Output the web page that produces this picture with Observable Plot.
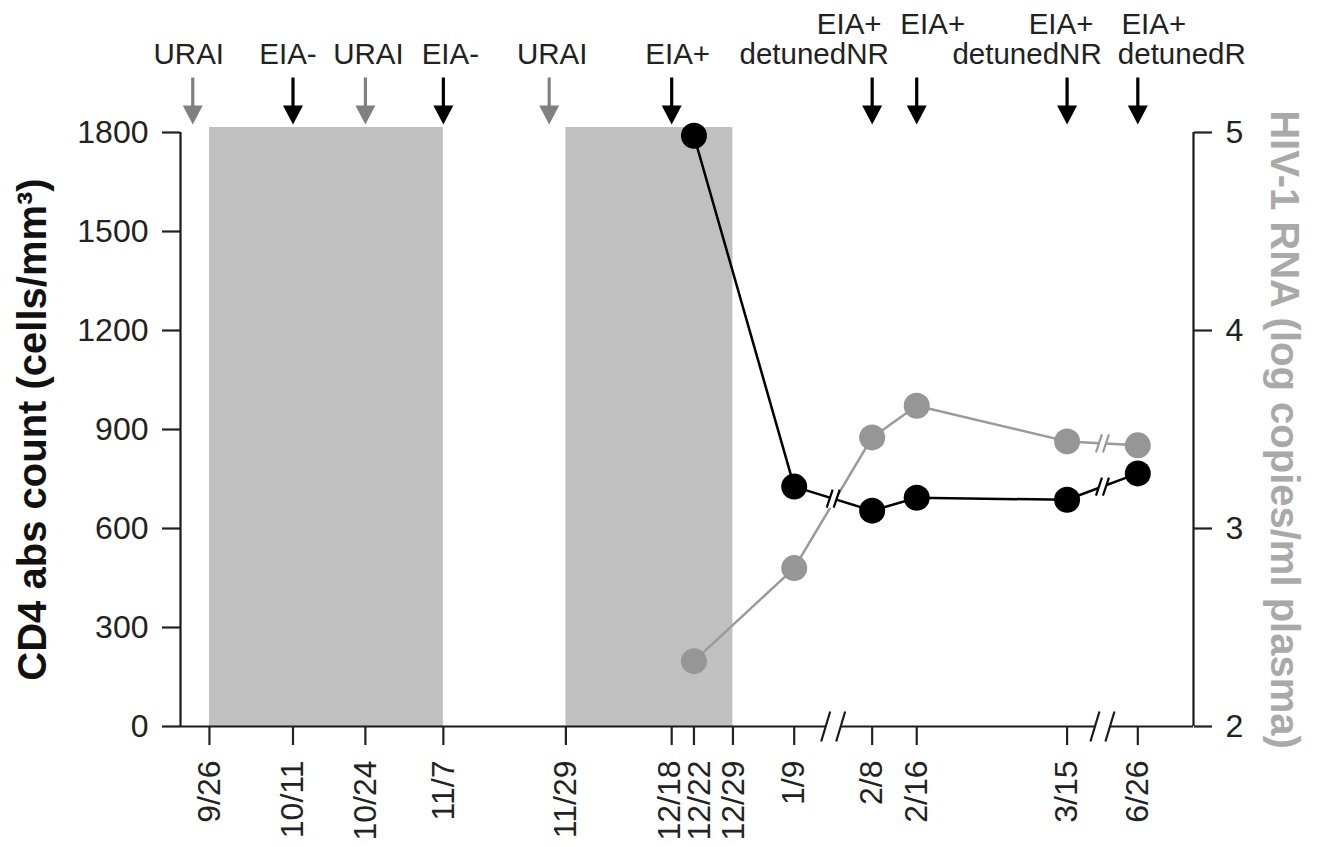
<!DOCTYPE html>
<html>
<head>
<meta charset="utf-8">
<script src="https://cdn.jsdelivr.net/npm/d3@7"></script>
<script src="https://cdn.jsdelivr.net/npm/@observablehq/plot@0.6"></script>
<style>
  html, body { margin: 0; padding: 0; background: #fff; }
  #chart { width: 1320px; height: 847px; }
  #chart svg g[aria-label$="tick label"] { font-size: 32px; }
</style>
</head>
<body>
<div id="chart"></div>
<script>
// ---------------- data ----------------
const sampleDates = ["12/22", "1/9", "2/8", "2/16", "3/15", "6/26"];
const cd4Counts   = [1790, 727, 654, 693, 687, 767];        // cells/mm3
const rnaLog      = [2.33, 2.80, 3.46, 3.62, 3.44, 3.42];   // log copies/ml plasma

const tickDates = ["9/26", "10/11", "10/24", "11/7", "11/29", "12/18", "12/22", "12/29", "1/9", "2/8", "2/16", "3/15", "6/26"];
const cd4Ticks = [0, 300, 600, 900, 1200, 1500, 1800];
const rnaTicks = [2, 3, 4, 5];

const eventDates = ["9/23", "10/11", "10/24", "11/7", "11/26", "12/18", "2/8", "2/16", "3/15", "6/26"];
const eventKinds = ["URAI", "EIA", "URAI", "EIA", "URAI", "EIA", "EIA", "EIA", "EIA", "EIA"];
const eventLine1 = ["", "", "", "", "", "", "EIA+", "EIA+", "EIA+", "EIA+"];
const eventLine2 = ["URAI", "EIA-", "URAI", "EIA-", "URAI", "EIA+", "detunedNR", "", "detunedNR", "detunedR"];

const shadeStarts = ["9/26", "11/29"];
const shadeEnds   = ["11/7", "12/29"];

const breakPairs = [["1/9", "2/8"], ["3/15", "6/26"]];
const rnaBreakPairs = [["3/15", "6/26"]];

// ---------------- layout (not data) ----------------
const line1Nudge = [0, 0, 0, 0, 0, 0, -23, 16, -6, 16];
const line2Nudge = [-4, -5, 3, 7, 3, 6, -58, 0, -40, 44];
const tickLabelNudge = [0, 0, 0, 0, 0, -2, 6, 1, 0, 0, 0, 0, 0];
const FONT = "'Liberation Sans', Arial, Helvetica, sans-serif";
const INK = "#1a1a1a";

// broken time axis: days since 9/26, with two compressed gaps
const AXIS_BREAKS = [{after: 120, gap: 16}, {after: 220, gap: 90.3}];
function dayIndex(md) {
  const [m, d] = md.split("/").map(Number);
  const year = m >= 9 ? 2001 : 2002;
  return Math.round((Date.UTC(year, m - 1, d) - Date.UTC(2001, 8, 26)) / 864e5);
}
function axisPos(md) {
  const d = dayIndex(md);
  let p = d;
  for (const b of AXIS_BREAKS) if (d > b.after) p -= b.gap;
  return p;
}
const X_DOMAIN = [-5.2, 176.7];

// RNA (2..5 log) drawn on the CD4 (0..1800) scale
const toCd4Scale = (v) => (v - 2) / 3 * 1800;

// ---------------- rows ----------------
const samples = sampleDates.map((d, i) => ({pos: axisPos(d), cd4: cd4Counts[i], rna: toCd4Scale(rnaLog[i])}));
const byDate = new Map(sampleDates.map((d, i) => [d, samples[i]]));
const events = eventDates.map((d, i) => ({pos: axisPos(d), kind: eventKinds[i], l1: eventLine1[i], l2: eventLine2[i], i}));
const shades = shadeStarts.map((s, i) => ({x1: axisPos(s), x2: axisPos(shadeEnds[i])}));
const axisBreaks = breakPairs.map(([a, b]) => ({pos: (axisPos(a) + axisPos(b)) / 2}));
const cd4Breaks = breakPairs.map(([a, b]) => ({pos: (axisPos(a) + axisPos(b)) / 2, y: (byDate.get(a).cd4 + byDate.get(b).cd4) / 2}));
const rnaBreaks = rnaBreakPairs.map(([a, b]) => ({pos: (axisPos(a) + axisPos(b)) / 2, y: (byDate.get(a).rna + byDate.get(b).rna) / 2}));
const xTicks = tickDates.map((d, i) => ({pos: axisPos(d), label: d, i}));

const rnaTickLabel = new Map(rnaTicks.map((v) => [toCd4Scale(v), String(v)]));

// ---------------- custom symbols ----------------
const arrowSymbol = {
  draw(ctx, size) {
    const k = Math.sqrt(size / Math.PI) / 10;
    ctx.moveTo(-1.6 * k, -47 * k);
    ctx.lineTo(1.6 * k, -47 * k);
    ctx.lineTo(1.6 * k, -19 * k);
    ctx.lineTo(10 * k, -19 * k);
    ctx.lineTo(0, 0);
    ctx.lineTo(-10 * k, -19 * k);
    ctx.lineTo(-1.6 * k, -19 * k);
    ctx.closePath();
  }
};
function breakFill(h, lean, sep) {
  return {draw(ctx) {
    ctx.moveTo(-sep / 2 - lean, h);
    ctx.lineTo(-sep / 2 + lean, -h);
    ctx.lineTo(sep / 2 + lean, -h);
    ctx.lineTo(sep / 2 - lean, h);
    ctx.closePath();
  }};
}
function breakLines(h, lean, sep) {
  return {draw(ctx) {
    ctx.moveTo(-sep / 2 - lean, h);
    ctx.lineTo(-sep / 2 + lean, -h);
    ctx.moveTo(sep / 2 - lean, h);
    ctx.lineTo(sep / 2 + lean, -h);
  }};
}

// ---------------- marks ----------------
const marks = [
  Plot.rect(shades, {x1: "x1", x2: "x2", y1: 0, y2: 1800, insetTop: -5, fill: "#c0c0c0"}),
  Plot.ruleY([0], {stroke: INK, strokeWidth: 2.2}),
  Plot.ruleX([X_DOMAIN[0]], {stroke: INK, strokeWidth: 2.2}),
  Plot.ruleX([X_DOMAIN[1]], {stroke: INK, strokeWidth: 2.2}),
  // axis breaks
  Plot.dot(axisBreaks, {x: "pos", y: 0, symbol: breakFill(15, 4.5, 15), r: 10, fill: "#fff", stroke: "none"}),
  Plot.dot(axisBreaks, {x: "pos", y: 0, symbol: breakLines(15, 4.5, 15), r: 10, fill: "none", stroke: INK, strokeWidth: 2.2}),
  // series lines
  Plot.line(samples, {x: "pos", y: "rna", stroke: "#9a9a9a", strokeWidth: 2.5}),
  Plot.line(samples, {x: "pos", y: "cd4", stroke: "#000", strokeWidth: 2.5}),
  Plot.dot(cd4Breaks, {x: "pos", y: "y", symbol: breakFill(9, 3, 7), r: 10, fill: "#fff", stroke: "none"}),
  Plot.dot(cd4Breaks, {x: "pos", y: "y", symbol: breakLines(9, 3, 7), r: 10, fill: "none", stroke: "#000", strokeWidth: 2.2}),
  Plot.dot(rnaBreaks, {x: "pos", y: "y", symbol: breakFill(9, 3, 7), r: 10, fill: "#fff", stroke: "none"}),
  Plot.dot(rnaBreaks, {x: "pos", y: "y", symbol: breakLines(9, 3, 7), r: 10, fill: "none", stroke: "#9a9a9a", strokeWidth: 2.2}),
  Plot.dot(samples, {x: "pos", y: "rna", r: 13, fill: "#969696", stroke: "none"}),
  Plot.dot(samples, {x: "pos", y: "cd4", r: 13, fill: "#000", stroke: "none"}),
  // axes
  Plot.axisY({anchor: "left", ticks: cd4Ticks, tickFormat: (d) => String(d), tickSize: 18, tickPadding: 14, fontSize: 32, label: null, strokeWidth: 2.2, color: "#222", fontFamily: FONT}),
  Plot.axisY({anchor: "right", ticks: rnaTicks.map(toCd4Scale), tickFormat: (d) => rnaTickLabel.get(d), tickSize: 18, tickPadding: 14, fontSize: 32, label: null, strokeWidth: 2.2, color: "#222", fontFamily: FONT}),
  Plot.axisX({ticks: xTicks.map((t) => t.pos), tickFormat: () => "", tickSize: 19, label: null, strokeWidth: 2.2, color: "#222"}),
  ...xTicks.map((t) => Plot.text([t], {x: "pos", text: "label", frameAnchor: "bottom", dy: 34, dx: tickLabelNudge[t.i], rotate: -90, textAnchor: "end", lineAnchor: "middle", fontSize: 32, fill: "#222", fontFamily: FONT})),
  // axis titles
  Plot.text(["CD4 abs count (cells/mm³)"], {text: (d) => d, frameAnchor: "left", dx: -147, rotate: -90, textAnchor: "middle", lineAnchor: "middle", fontSize: 40, fontWeight: "bold", fill: "#111", fontFamily: FONT}),
  Plot.text(["HIV-1 RNA (log copies/ml plasma)"], {text: (d) => d, frameAnchor: "right", dx: 90, rotate: 90, textAnchor: "middle", lineAnchor: "middle", fontSize: 40, fontWeight: "bold", fill: "#a9a9a9", fontFamily: FONT}),
  // event arrows
  Plot.dot(events.filter((e) => e.kind === "URAI"), {x: "pos", frameAnchor: "top", dy: -8, symbol: arrowSymbol, r: 10, fill: "#808080", stroke: "none"}),
  Plot.dot(events.filter((e) => e.kind !== "URAI"), {x: "pos", frameAnchor: "top", dy: -8, symbol: arrowSymbol, r: 10, fill: "#000", stroke: "none"}),
  // event labels
  ...events.filter((e) => e.l1).map((e) => Plot.text([e], {x: "pos", text: "l1", frameAnchor: "top", dy: -99, dx: line1Nudge[e.i], lineAnchor: "bottom", textAnchor: "middle", fontSize: 29.5, fill: "#222", fontFamily: FONT})),
  ...events.filter((e) => e.l2).map((e) => Plot.text([e], {x: "pos", text: "l2", frameAnchor: "top", dy: -69, dx: line2Nudge[e.i], lineAnchor: "bottom", textAnchor: "middle", fontSize: 29.5, fill: "#222", fontFamily: FONT}))
];

const chart = Plot.plot({
  width: 1320,
  height: 847,
  marginLeft: 180,
  marginRight: 127,
  marginTop: 132,
  marginBottom: 121,
  x: {type: "linear", domain: X_DOMAIN},
  y: {type: "linear", domain: [0, 1800]},
  style: {fontFamily: FONT, fontSize: "32px", color: "#222", background: "#fff", overflow: "visible"},
  marks
});
document.getElementById("chart").appendChild(chart);
</script>
</body>
</html>
